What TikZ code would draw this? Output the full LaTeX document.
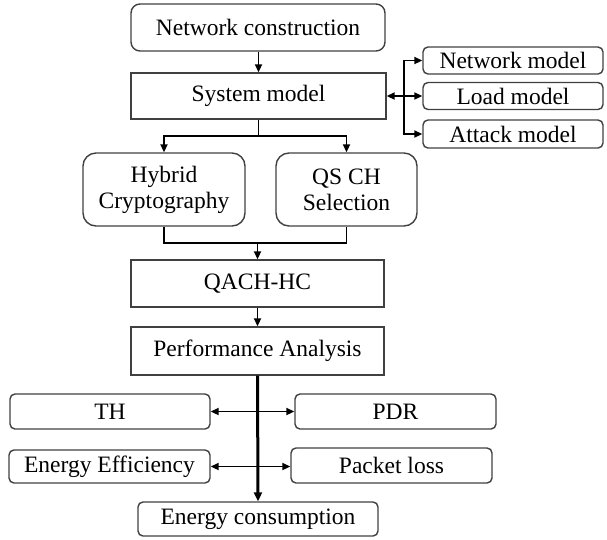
\documentclass[tikz,border=0pt]{standalone}
\usepackage{fontspec}
\setmainfont{Liberation Serif}
\usetikzlibrary{arrows.meta}
\begin{document}
\begin{tikzpicture}[x=1pt,y=-1pt,
  box/.style={draw=black!75, line width=1.4pt, inner sep=0pt, align=center,
    font=\fontsize{23.5}{26}\selectfont},
  rbox/.style={box, rounded corners=5pt},
  conn/.style={line width=1.9pt, draw=black},
  arr/.style={conn, -{Triangle[length=8pt,width=7pt]}},
  darr/.style={conn, {Triangle[length=8pt,width=7pt]}-{Triangle[length=8pt,width=7pt]}}]
\useasboundingbox (0,0) rectangle (607,539);
\node[box, rounded corners=9pt, minimum width=254pt, minimum height=47pt] (nc) at (258,27.5) {Network construction};
\node[box, minimum width=255pt, minimum height=46pt] (sm) at (258.5,96) {System model};
\node[rbox, minimum width=180pt, minimum height=27pt] (nm) at (513,60.5) {Network model};
\node[rbox, minimum width=180pt, minimum height=27pt] (lm) at (513,96) {Load model};
\node[rbox, minimum width=180pt, minimum height=28pt] (am) at (513,134) {Attack model};
\node[box, rounded corners=13pt, minimum width=162pt, minimum height=73pt] (hc) at (164,189.5) {Hybrid\\Cryptography};
\node[box, rounded corners=13pt, minimum width=141pt, minimum height=73pt] (qs) at (346.5,189.5) {QS CH\\Selection};
\node[box, minimum width=253pt, minimum height=47pt] (qa) at (257.5,283.5) {QACH-HC};
\node[box, minimum width=253pt, minimum height=48pt] (pa) at (257.5,351) {Performance Analysis};
\node[rbox, minimum width=200pt, minimum height=35pt] (th) at (110,411.5) {TH};
\node[rbox, minimum width=201pt, minimum height=35pt] (pdr) at (395.5,411.5) {PDR};
\node[rbox, minimum width=201pt, minimum height=33pt] (ee) at (109.5,466.5) {Energy Efficiency};
\node[rbox, minimum width=201pt, minimum height=35pt] (pl) at (391.5,465.5) {Packet loss};
\node[rbox, minimum width=240pt, minimum height=34pt] (ec) at (258,519) {Energy consumption};
\coordinate (sj) at (258.5,136);
\coordinate (mj) at (257.5,243);
\coordinate (rt) at (404,96);
\draw[arr] (nc.south -| sm.north) -- (sm.north);
\draw[conn] (sm.south) -- (sj);
\draw[arr] (sj) -| (hc.north);
\draw[arr] (sj) -| (qs.north);
\draw[conn] (hc.south) |- (mj) -| (qs.south);
\draw[arr] (mj) -- (qa.north);
\draw[arr] (qa.south) -- (pa.north);
\draw[darr] (sm.east) -- (lm.west);
\draw[arr] (rt) |- (nm.west);
\draw[arr] (rt) |- (am.west);
\draw[line width=3pt, -{Triangle[length=9pt,width=8pt]}] (pa.south) -- (ec.north);
\draw[darr] (th.east) -- (pdr.west);
\draw[darr] (ee.east) -- (ee.east -| pl.west);
\end{tikzpicture}
\end{document}
